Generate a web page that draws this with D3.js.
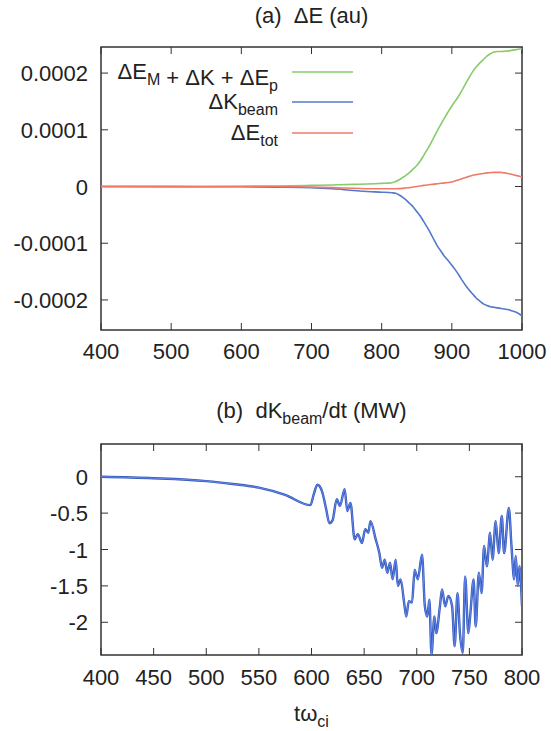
<!DOCTYPE html>
<html>
<head>
<meta charset="utf-8">
<script src="https://cdn.jsdelivr.net/npm/d3@7"></script>
<style>
  body { margin: 0; background: #fff; }
  text { font-family: "Liberation Sans", Arial, sans-serif; fill: #222; }
</style>
</head>
<body>
<div id="chart"></div>
<script>
// ---- data: panel (a) energy changes (au) ----
const tA = [400, 500, 600, 650, 700, 730, 760, 790, 800, 810, 815, 820, 825, 830, 835, 840, 845, 850, 855, 860,
  865, 870, 875, 880, 885, 890, 895, 900, 905, 910, 915, 920, 925, 930, 935, 940, 945, 950, 955, 960,
  965, 970, 975, 980, 985, 990, 995, 1000];
const greenSum = [0, 0, 0.0000005, 0.000001, 0.000002, 0.0000028, 0.0000038, 0.000005, 0.0000055, 0.000006, 0.0000068, 0.000009, 0.000012, 0.000016, 0.00002, 0.000025, 0.000031, 0.000037, 0.000045, 0.000055,
  0.000065, 0.000076, 0.000088, 0.0001, 0.000111, 0.000122, 0.000132, 0.000142, 0.000151, 0.00016, 0.000171, 0.000182, 0.000193, 0.000203, 0.000211, 0.000218, 0.000224, 0.00023, 0.000234, 0.000237,
  0.000238, 0.000238, 0.0002385, 0.000239, 0.00024, 0.000241, 0.000242, 0.000243];
const kBeam = [0, -0.0000002, -0.0000005, -0.000001, -0.000002, -0.000004, -0.000007, -0.0000095, -0.00001, -0.0000105, -0.000011, -0.000012, -0.000015, -0.000019, -0.000024, -0.00003, -0.000036, -0.000044, -0.000052, -0.000062,
  -0.000072, -0.000083, -0.000095, -0.000106, -0.000115, -0.000124, -0.000131, -0.000139, -0.000147, -0.000156, -0.000166, -0.000175, -0.000183, -0.00019, -0.000197, -0.000202, -0.000207, -0.00021, -0.000212, -0.000213,
  -0.000214, -0.000215, -0.000216, -0.000217, -0.000219, -0.000221, -0.000224, -0.000228];
const eTot = [0, 0, 0, 0, -0.000001, -0.000002, -0.000003, -0.000004, -0.000004, -0.000004, -0.000004, -0.000004, -0.0000038, -0.0000032, -0.0000025, -0.000002, -0.000001, 0, 0.000001, 0.000002,
  0.0000028, 0.0000035, 0.0000042, 0.000005, 0.0000058, 0.0000065, 0.000007, 0.000008, 0.00001, 0.000012, 0.000014, 0.000016, 0.000018, 0.00002, 0.000021, 0.000022, 0.000023, 0.000024, 0.0000245, 0.000025,
  0.000025, 0.000025, 0.000024, 0.000023, 0.0000215, 0.00002, 0.0000185, 0.000017];

// ---- data: panel (b) dK_beam/dt (MW) ----
const tB = [400, 450, 500, 525, 550, 575, 599, 602, 605.6, 610, 614, 617, 620, 624, 627, 631.5, 634, 637, 641, 644,
  648, 651, 654, 656, 661, 664.5, 667, 669.6, 672, 674.6, 677, 680, 682, 684.7, 688, 690, 692.5, 695.5, 698, 701,
  705, 707.7, 710, 712, 714, 716.8, 718.5, 722, 724, 727, 730, 733.6, 736, 738.7, 741, 743.7, 746, 749, 751, 754,
  756, 759, 761.6, 764, 766.6, 769.7, 772, 775, 777.8, 780.8, 783, 787.5, 790, 792.6, 794, 796, 797.6, 800];
const dKdt = [0, -0.02, -0.06, -0.1, -0.15, -0.25, -0.39, -0.25, -0.11, -0.2, -0.45, -0.64, -0.6, -0.31, -0.4, -0.17, -0.47, -0.36, -0.86, -0.79,
  -0.91, -0.72, -0.77, -0.61, -0.86, -1.05, -1.25, -1.14, -1.32, -1.18, -1.41, -1.14, -1.5, -1.41, -1.73, -1.92, -1.71, -1.73, -1.28, -1.41,
  -1.07, -1.78, -1.92, -1.69, -2.44, -1.92, -2.15, -1.78, -1.55, -1.78, -1.64, -1.78, -2.33, -1.6, -2.15, -2.42, -1.37, -2.15, -1.87, -1.41,
  -2.06, -1.32, -1.6, -0.95, -1.23, -0.77, -1.14, -0.61, -1.05, -0.54, -1.05, -0.43, -0.95, -1.41, -1.09, -1.5, -1.23, -1.78];

const ticksAx = [400, 500, 600, 700, 800, 900, 1000];
const ticksAy = [-0.0002, -0.0001, 0, 0.0001, 0.0002];
const ticksBx = [400, 450, 500, 550, 600, 650, 700, 750, 800];
const ticksBy = [-2, -1.5, -1, -0.5, 0];

const W = 551, H = 731;
const FS = 22, FSUB = 16;
const svg = d3.select("#chart").append("svg").attr("width", W).attr("height", H);

const left = 101, right = 522;
const panelA = { top: 47, bottom: 330 };
const panelB = { top: 444, bottom: 655 };

const xA = d3.scaleLinear().domain([400, 1000]).range([left, right]);
const yA = d3.scaleLinear().domain([-0.000253, 0.000246]).range([panelA.bottom, panelA.top]);
const xB = d3.scaleLinear().domain([400, 800]).range([left, right]);
const yB = d3.scaleLinear().domain([-2.45, 0.45]).range([panelB.bottom, panelB.top]);

const fmtA = d => d === 0 ? "0" : d3.format(".4f")(d).replace("−", "-");
const fmtB = d => String(d);

function frame(x, y, xt, yt, fmtY, clipId, labOff) {
  const g = svg.append("g");
  const [x0, x1] = x.range(), [y0, y1] = y.range();
  // inward ticks on all four sides
  const tl = 7;
  xt.forEach(v => {
    g.append("line").attr("x1", x(v)).attr("x2", x(v)).attr("y1", y0).attr("y2", y0 - tl);
    g.append("line").attr("x1", x(v)).attr("x2", x(v)).attr("y1", y1).attr("y2", y1 + tl);
    g.append("text").attr("x", x(v)).attr("y", y0 + labOff).attr("text-anchor", "middle")
      .attr("font-size", FS).text(v);
  });
  yt.forEach(v => {
    g.append("line").attr("x1", x0).attr("x2", x0 + tl).attr("y1", y(v)).attr("y2", y(v));
    g.append("line").attr("x1", x1).attr("x2", x1 - tl).attr("y1", y(v)).attr("y2", y(v));
    g.append("text").attr("x", x0 - 13).attr("y", y(v) + 8).attr("text-anchor", "end")
      .attr("font-size", FS).text(fmtY(v));
  });
  g.selectAll("line").attr("stroke", "#333").attr("stroke-width", 1);
  g.append("rect").attr("x", x0).attr("y", y1).attr("width", x1 - x0).attr("height", y0 - y1)
    .attr("fill", "none").attr("stroke", "#333").attr("stroke-width", 1.5);
  svg.append("clipPath").attr("id", clipId).append("rect")
    .attr("x", x0).attr("y", y1).attr("width", x1 - x0).attr("height", y0 - y1);
}

frame(xA, yA, ticksAx, ticksAy, fmtA, "clipA", 29);
frame(xB, yB, ticksBx, ticksBy, fmtB, "clipB", 30);

// panel (a) lines
const lineA = ys => d3.line().x((d, i) => xA(tA[i])).y((d, i) => yA(ys[i])).curve(d3.curveMonotoneX)(ys);
const seriesA = [
  { vals: greenSum, color: "#86cc6a" },
  { vals: kBeam, color: "#5478cc" },
  { vals: eTot, color: "#ef7a68" }
];
seriesA.forEach(s => {
  svg.append("path").attr("d", lineA(s.vals)).attr("fill", "none")
    .attr("stroke", s.color).attr("stroke-width", 1.6).attr("clip-path", "url(#clipA)");
});

// legend (a)
const legRows = [72, 102, 133];
const leg = svg.append("g").attr("font-size", FS);
function legendText(y, parts) {
  const t = leg.append("text").attr("x", 278).attr("y", y + 7).attr("text-anchor", "end");
  parts.forEach(p => {
    if (p.sub) {
      t.append("tspan").attr("dy", 6).attr("font-size", FSUB).text(p.sub);
      t.append("tspan").attr("dy", -6).text("");
    } else {
      t.append("tspan").text(p.t);
    }
  });
}
legendText(legRows[0], [{ t: "ΔE" }, { sub: "M" }, { t: " + ΔK + ΔE" }, { sub: "p" }]);
legendText(legRows[1], [{ t: "ΔK" }, { sub: "beam" }]);
legendText(legRows[2], [{ t: "ΔE" }, { sub: "tot" }]);
seriesA.forEach((s, i) => {
  leg.append("line").attr("x1", 292).attr("x2", 353).attr("y1", legRows[i]).attr("y2", legRows[i])
    .attr("stroke", s.color).attr("stroke-width", 1.6);
});

// panel (b) line
const lineB = d3.line().x((d, i) => xB(tB[i])).y((d, i) => yB(dKdt[i])).curve(d3.curveMonotoneX);
svg.append("path").attr("d", lineB(dKdt)).attr("fill", "none")
  .attr("stroke", "#2f55b8").attr("stroke-width", 2.4).attr("clip-path", "url(#clipB)");
svg.append("path").attr("d", lineB(dKdt)).attr("fill", "none")
  .attr("stroke", "#6e8ff0").attr("stroke-width", 0.9).attr("clip-path", "url(#clipB)");

// titles
const cx = (left + right) / 2;
svg.append("text").attr("x", cx).attr("y", 23).attr("text-anchor", "middle").attr("font-size", FS)
  .attr("xml:space", "preserve").text("(a)  ΔE (au)");
const tB_ = svg.append("text").attr("x", cx).attr("y", 418).attr("text-anchor", "middle").attr("font-size", FS)
  .attr("xml:space", "preserve");
tB_.append("tspan").text("(b)  dK");
tB_.append("tspan").attr("dy", 6).attr("font-size", FSUB).text("beam");
tB_.append("tspan").attr("dy", -6).text("/dt (MW)");

const xl = svg.append("text").attr("x", cx).attr("y", 721).attr("text-anchor", "middle").attr("font-size", FS);
xl.append("tspan").text("tω");
xl.append("tspan").attr("dy", 6).attr("font-size", FSUB).text("ci");
</script>
</body>
</html>
